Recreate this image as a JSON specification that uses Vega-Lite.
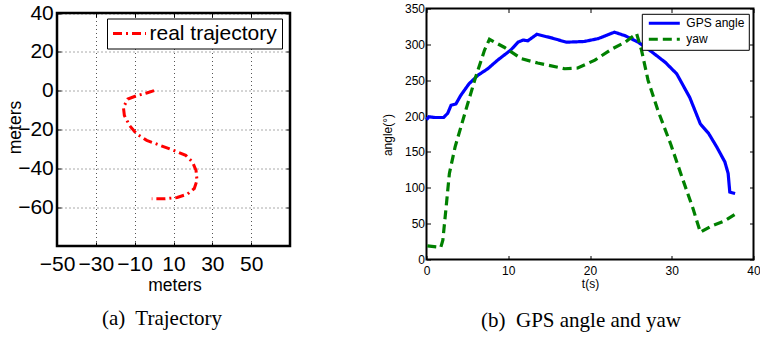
{
  "$schema": "https://vega.github.io/schema/vega-lite/v6.json",
  "background": "white",
  "padding": {"left": 6, "top": 1.5, "right": 0, "bottom": 0},
  "spacing": 88.5,
  "config": {
    "font": "Liberation Sans",
    "axis": {"labelColor": "black", "titleColor": "black", "titleFontWeight": "normal", "domain": false, "tickColor": "black", "tickWidth": 1, "labelFlush": false, "labelOverlap": false},
    "legend": {"labelColor": "black", "labelFont": "Liberation Sans", "strokeColor": "black", "fillColor": "white", "cornerRadius": 0, "title": null}
  },
  "resolve": {"scale": {"color": "independent", "strokeDash": "independent"}},
  "hconcat": [
    {
      "width": 233,
      "height": 237.5,
      "view": {"stroke": null},
      "title": {"text": "(a)\u00a0 Trajectory", "orient": "bottom", "font": "Liberation Serif", "fontSize": 21, "fontWeight": "normal", "color": "black", "frame": "group", "anchor": "middle", "dx": -11.5, "offset": 14},
      "data": {"values": [
        {"i": 0, "x": 0, "y": 0, "s": "real trajectory"},
        {"i": 1, "x": -3.8, "y": -1.2, "s": "real trajectory"},
        {"i": 2, "x": -9, "y": -2.6, "s": "real trajectory"},
        {"i": 3, "x": -13.5, "y": -4.3, "s": "real trajectory"},
        {"i": 4, "x": -15.8, "y": -8.5, "s": "real trajectory"},
        {"i": 5, "x": -15.3, "y": -12.8, "s": "real trajectory"},
        {"i": 6, "x": -12.6, "y": -18, "s": "real trajectory"},
        {"i": 7, "x": -9.1, "y": -22.2, "s": "real trajectory"},
        {"i": 8, "x": -3.8, "y": -25.6, "s": "real trajectory"},
        {"i": 9, "x": 3.2, "y": -28.2, "s": "real trajectory"},
        {"i": 10, "x": 10.2, "y": -30.8, "s": "real trajectory"},
        {"i": 11, "x": 16.3, "y": -33.3, "s": "real trajectory"},
        {"i": 12, "x": 19.8, "y": -36.8, "s": "real trajectory"},
        {"i": 13, "x": 21.6, "y": -41, "s": "real trajectory"},
        {"i": 14, "x": 22.1, "y": -46.2, "s": "real trajectory"},
        {"i": 15, "x": 20.7, "y": -50.4, "s": "real trajectory"},
        {"i": 16, "x": 17.2, "y": -53.3, "s": "real trajectory"},
        {"i": 17, "x": 11.9, "y": -55, "s": "real trajectory"},
        {"i": 18, "x": 5.8, "y": -55.7, "s": "real trajectory"},
        {"i": 19, "x": -1.2, "y": -55.7, "s": "real trajectory"}
      ]},
      "layer": [
        {
          "mark": {"type": "line", "strokeWidth": 3},
          "encoding": {
            "x": {"field": "x", "type": "quantitative", "scale": {"domain": [-50, 70], "nice": false, "zero": false},
              "axis": {"orient": "bottom", "title": "meters", "values": [-50, -30, -10, 10, 30, 50], "labelFontSize": 21, "labelExpr": "datum.value < 0 ? datum.label + '\u00a0\u00a0' : datum.label", "labelBaseline": "alphabetic", "labelPadding": 28.5, "tickSize": -4, "titleFontSize": 17.5, "titleBaseline": "alphabetic", "titleX": 117.5, "titleY": 44.5, "grid": true, "gridDash": [1, 3], "gridColor": "#555555", "gridOpacity": 1}},
            "y": {"field": "y", "type": "quantitative", "scale": {"domain": [-80, 42.3176], "nice": false, "zero": false},
              "axis": {"orient": "left", "title": "meters", "values": [-60, -40, -20, 0, 20, 40], "labelFontSize": 21, "labelPadding": 7.7, "tickSize": -4, "titleFontSize": 17.5, "titleBaseline": "alphabetic", "titleX": -37, "titleY": 118.5, "grid": true, "gridDash": [1, 3], "gridColor": "#555555", "gridOpacity": 1}},
            "order": {"field": "i", "type": "quantitative"},
            "color": {"field": "s", "type": "nominal", "scale": {"range": ["#ff0000"]},
              "legend": {"orient": "none", "legendX": 50, "legendY": 10, "symbolType": "stroke", "symbolSize": 1089, "symbolStrokeWidth": 3, "clipHeight": 20, "labelFontSize": 21, "labelOffset": 2, "symbolOffset": -0.5, "padding": 5, "labelExpr": "datum.label + '\u00a0'"}},
            "strokeDash": {"field": "s", "type": "nominal", "scale": {"range": [[9, 4, 2, 4]]}}
          }
        },
        {
          "mark": {"type": "line", "opacity": 0},
          "encoding": {
            "x": {"field": "x", "type": "quantitative", "axis": {"orient": "top", "labels": false, "title": null, "values": [-50, -30, -10, 10, 30, 50], "tickSize": -4, "grid": false, "offset": -4.5, "zindex": 2}},
            "y": {"field": "y", "type": "quantitative", "axis": {"orient": "right", "labels": false, "title": null, "values": [-60, -40, -20, 0, 20, 40], "tickSize": -4, "grid": false, "zindex": 2}},
            "order": {"field": "i", "type": "quantitative"}
          }
        },
        {
          "data": {"values": [{}]},
          "mark": {"type": "rect", "fill": "white", "strokeWidth": 0},
          "encoding": {
            "x": {"datum": -50, "axis": null},
            "x2": {"datum": 70},
            "y": {"datum": 40, "axis": null},
            "y2": {"datum": 42.3176}
          }
        },
        {
          "data": {"values": [{}]},
          "mark": {"type": "rect", "fill": null, "stroke": "black", "strokeWidth": 2.5},
          "encoding": {
            "x": {"datum": -50, "axis": null},
            "x2": {"datum": 70},
            "y": {"datum": -80, "axis": null},
            "y2": {"datum": 40}
          }
        }
      ],
      "resolve": {"axis": {"x": "independent", "y": "independent"}}
    },
    {
      "width": 327,
      "height": 251,
      "view": {"stroke": "black", "strokeWidth": 2},
      "title": {"text": "(b)\u00a0 GPS angle and yaw", "orient": "bottom", "font": "Liberation Serif", "fontSize": 21, "fontWeight": "normal", "color": "black", "frame": "group", "anchor": "middle", "dx": -9, "offset": 21},
      "data": {"values": [
        {"t": 0, "v": 195, "s": "GPS angle"},
        {"t": 0.3, "v": 199, "s": "GPS angle"},
        {"t": 1.0, "v": 198, "s": "GPS angle"},
        {"t": 2.1, "v": 198, "s": "GPS angle"},
        {"t": 2.6, "v": 204, "s": "GPS angle"},
        {"t": 3.0, "v": 215, "s": "GPS angle"},
        {"t": 3.6, "v": 217, "s": "GPS angle"},
        {"t": 4.2, "v": 229, "s": "GPS angle"},
        {"t": 5.2, "v": 245, "s": "GPS angle"},
        {"t": 6.3, "v": 257, "s": "GPS angle"},
        {"t": 7.5, "v": 266, "s": "GPS angle"},
        {"t": 8.7, "v": 278, "s": "GPS angle"},
        {"t": 10.3, "v": 292, "s": "GPS angle"},
        {"t": 11.2, "v": 303, "s": "GPS angle"},
        {"t": 11.8, "v": 306, "s": "GPS angle"},
        {"t": 12.4, "v": 305, "s": "GPS angle"},
        {"t": 13.5, "v": 314, "s": "GPS angle"},
        {"t": 15.3, "v": 309, "s": "GPS angle"},
        {"t": 17.1, "v": 303, "s": "GPS angle"},
        {"t": 19.3, "v": 304, "s": "GPS angle"},
        {"t": 21.0, "v": 308, "s": "GPS angle"},
        {"t": 23.0, "v": 317, "s": "GPS angle"},
        {"t": 24.3, "v": 312, "s": "GPS angle"},
        {"t": 25.9, "v": 303, "s": "GPS angle"},
        {"t": 27.5, "v": 290, "s": "GPS angle"},
        {"t": 29.2, "v": 275, "s": "GPS angle"},
        {"t": 30.6, "v": 259, "s": "GPS angle"},
        {"t": 32.2, "v": 226, "s": "GPS angle"},
        {"t": 33.5, "v": 189, "s": "GPS angle"},
        {"t": 34.5, "v": 176, "s": "GPS angle"},
        {"t": 35.5, "v": 157, "s": "GPS angle"},
        {"t": 36.5, "v": 136, "s": "GPS angle"},
        {"t": 36.9, "v": 120, "s": "GPS angle"},
        {"t": 37.1, "v": 94, "s": "GPS angle"},
        {"t": 37.75, "v": 92, "s": "GPS angle"},
        {"t": 0.1, "v": 19, "s": "yaw"},
        {"t": 1.75, "v": 17, "s": "yaw"},
        {"t": 2.0, "v": 27, "s": "yaw"},
        {"t": 2.4, "v": 73, "s": "yaw"},
        {"t": 2.8, "v": 120, "s": "yaw"},
        {"t": 3.5, "v": 157, "s": "yaw"},
        {"t": 4.8, "v": 208, "s": "yaw"},
        {"t": 6.0, "v": 254, "s": "yaw"},
        {"t": 7.1, "v": 292, "s": "yaw"},
        {"t": 7.7, "v": 307, "s": "yaw"},
        {"t": 9.5, "v": 296, "s": "yaw"},
        {"t": 11.6, "v": 280, "s": "yaw"},
        {"t": 13.6, "v": 274, "s": "yaw"},
        {"t": 16.9, "v": 266, "s": "yaw"},
        {"t": 18.5, "v": 267, "s": "yaw"},
        {"t": 20.6, "v": 278, "s": "yaw"},
        {"t": 22.6, "v": 293, "s": "yaw"},
        {"t": 24.3, "v": 303, "s": "yaw"},
        {"t": 25.7, "v": 315, "s": "yaw"},
        {"t": 26.3, "v": 292, "s": "yaw"},
        {"t": 27.1, "v": 250, "s": "yaw"},
        {"t": 28.3, "v": 208, "s": "yaw"},
        {"t": 29.9, "v": 160, "s": "yaw"},
        {"t": 31.4, "v": 110, "s": "yaw"},
        {"t": 32.6, "v": 71, "s": "yaw"},
        {"t": 33.5, "v": 38, "s": "yaw"},
        {"t": 34.9, "v": 47, "s": "yaw"},
        {"t": 36.5, "v": 54, "s": "yaw"},
        {"t": 37.75, "v": 63, "s": "yaw"}
      ]},
      "layer": [
        {
          "mark": {"type": "line", "strokeWidth": 3.2},
          "encoding": {
            "x": {"field": "t", "type": "quantitative", "scale": {"domain": [0, 40], "nice": false},
              "axis": {"orient": "bottom", "title": "t(s)", "values": [0, 10, 20, 30, 40], "labelFontSize": 12, "labelBaseline": "alphabetic", "labelPadding": 19.3, "tickSize": -4, "titleFontSize": 12, "titleBaseline": "alphabetic", "titleX": 163.5, "titleY": 27.5, "grid": false}},
            "y": {"field": "v", "type": "quantitative", "scale": {"domain": [0, 350], "nice": false},
              "axis": {"orient": "left", "title": "angle(°)", "values": [0, 50, 100, 150, 200, 250, 300, 350], "labelFontSize": 12, "labelPadding": 6, "tickSize": -4, "titleFontSize": 12, "titleBaseline": "alphabetic", "titleX": -35, "titleY": 126, "grid": false}},
            "color": {"field": "s", "type": "nominal", "scale": {"domain": ["GPS angle", "yaw"], "range": ["#0000ff", "#008000"]},
              "legend": {"orient": "none", "legendX": 215.3, "legendY": 5.3, "symbolType": "stroke", "symbolSize": 961, "symbolStrokeWidth": 3, "clipHeight": 11, "rowPadding": 3, "labelFontSize": 12, "labelOffset": 5, "symbolOffset": 1.5, "padding": 4, "labelExpr": "datum.label + '\u00a0'"}},
            "strokeDash": {"field": "s", "type": "nominal", "scale": {"domain": ["GPS angle", "yaw"], "range": [[1, 0], [9, 5]]}}
          }
        },
        {
          "mark": {"type": "line", "opacity": 0},
          "encoding": {
            "x": {"field": "t", "type": "quantitative", "axis": {"orient": "top", "labels": false, "title": null, "values": [0, 10, 20, 30, 40], "tickSize": -4, "grid": false}},
            "y": {"field": "v", "type": "quantitative", "axis": {"orient": "right", "labels": false, "title": null, "values": [0, 50, 100, 150, 200, 250, 300, 350], "tickSize": -4, "grid": false}},
            "detail": {"field": "s", "type": "nominal"}
          }
        }
      ],
      "resolve": {"axis": {"x": "independent", "y": "independent"}}
    }
  ]
}
